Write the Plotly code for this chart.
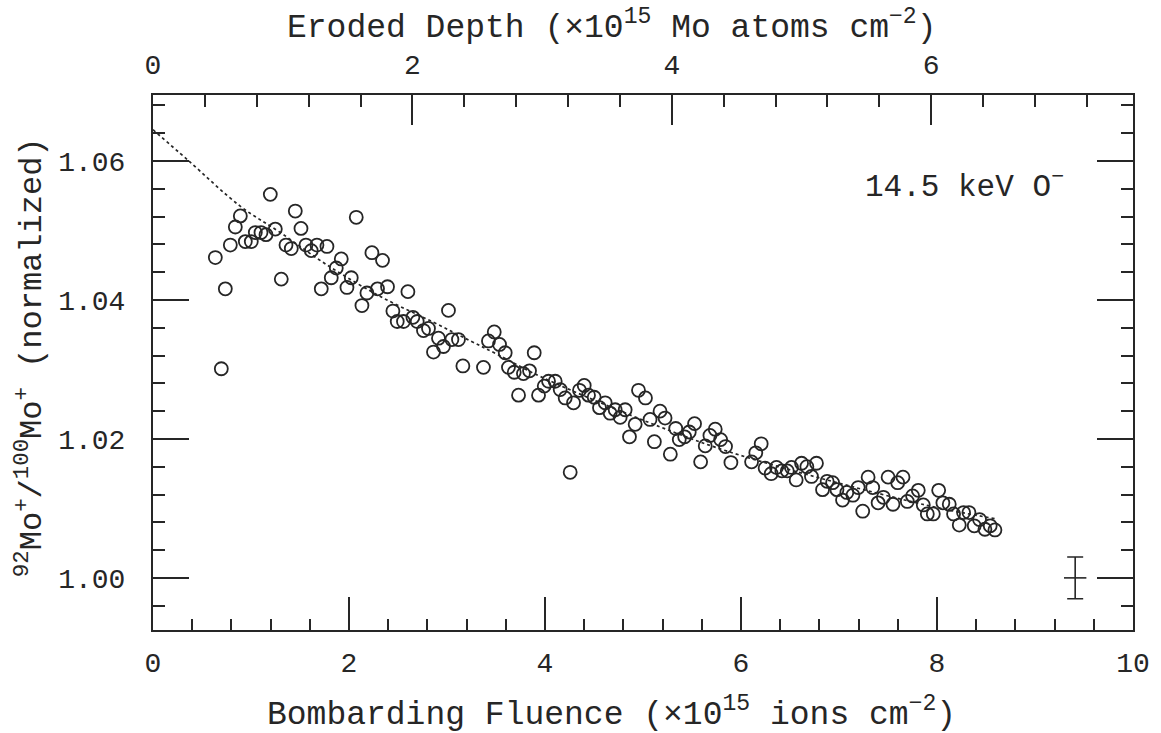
import plotly.graph_objects as go

# Measured data: bombarding fluence (x1e15 ions cm^-2) vs 92Mo+/100Mo+ (normalized)
fluence = [0.636, 0.697, 0.738, 0.789, 0.840, 0.891, 0.942, 1.003, 1.044, 1.102,
           1.153, 1.197, 1.248, 1.309, 1.357, 1.411, 1.452, 1.510, 1.561, 1.615,
           1.673, 1.717, 1.775, 1.819, 1.870, 1.921, 1.979, 2.023, 2.074, 2.132,
           2.183, 2.234, 2.291, 2.342, 2.393, 2.448, 2.492, 2.556, 2.601, 2.652,
           2.696, 2.760, 2.811, 2.862, 2.913, 2.964, 3.015, 3.050, 3.117, 3.162,
           3.372, 3.423, 3.482, 3.536, 3.594, 3.627, 3.686, 3.730, 3.780, 3.842,
           3.890, 3.934, 3.992, 4.036, 4.104, 4.155, 4.206, 4.257, 4.291, 4.352,
           4.400, 4.444, 4.502, 4.556, 4.614, 4.665, 4.716, 4.767, 4.818, 4.862,
           4.920, 4.954, 5.025, 5.072, 5.116, 5.174, 5.225, 5.279, 5.334, 5.370,
           5.425, 5.472, 5.526, 5.588, 5.635, 5.683, 5.737, 5.792, 5.842, 5.897,
           6.108, 6.151, 6.206, 6.246, 6.308, 6.362, 6.417, 6.472, 6.515, 6.563,
           6.618, 6.672, 6.719, 6.770, 6.832, 6.879, 6.935, 6.979, 7.036, 7.080,
           7.142, 7.196, 7.242, 7.297, 7.344, 7.399, 7.453, 7.501, 7.551, 7.599,
           7.653, 7.697, 7.751, 7.809, 7.860, 7.901, 7.962, 8.017, 8.060, 8.125,
           8.169, 8.227, 8.271, 8.326, 8.380, 8.434, 8.489, 8.543, 8.591]
ratio = [1.0461, 1.0301, 1.0416, 1.0479, 1.0505, 1.0521, 1.0484, 1.0484, 1.0497, 1.0497,
         1.0494, 1.0552, 1.0502, 1.0430, 1.0479, 1.0474, 1.0528, 1.0503, 1.0479, 1.0471,
         1.0479, 1.0416, 1.0477, 1.0432, 1.0446, 1.0459, 1.0418, 1.0432, 1.0519, 1.0392,
         1.0410, 1.0468, 1.0416, 1.0457, 1.0419, 1.0384, 1.0369, 1.0369, 1.0412, 1.0375,
         1.0369, 1.0356, 1.0359, 1.0325, 1.0345, 1.0333, 1.0385, 1.0343, 1.0343, 1.0305,
         1.0303, 1.0341, 1.0354, 1.0336, 1.0324, 1.0303, 1.0296, 1.0263, 1.0294, 1.0298,
         1.0324, 1.0263, 1.0276, 1.0283, 1.0283, 1.0271, 1.0259, 1.0152, 1.0252, 1.0270,
         1.0277, 1.0263, 1.0260, 1.0245, 1.0252, 1.0237, 1.0242, 1.0231, 1.0242, 1.0203,
         1.0221, 1.0270, 1.0259, 1.0228, 1.0196, 1.0240, 1.0230, 1.0178, 1.0215, 1.0199,
         1.0203, 1.0210, 1.0222, 1.0167, 1.0190, 1.0205, 1.0214, 1.0199, 1.0189, 1.0166,
         1.0167, 1.0180, 1.0193, 1.0158, 1.0150, 1.0159, 1.0154, 1.0154, 1.0159, 1.0141,
         1.0165, 1.0160, 1.0146, 1.0165, 1.0127, 1.0139, 1.0137, 1.0127, 1.0112, 1.0123,
         1.0119, 1.0130, 1.0096, 1.0145, 1.0130, 1.0108, 1.0116, 1.0145, 1.0106, 1.0137,
         1.0145, 1.0110, 1.0118, 1.0126, 1.0105, 1.0092, 1.0092, 1.0126, 1.0108, 1.0106,
         1.0092, 1.0076, 1.0094, 1.0094, 1.0075, 1.0084, 1.0070, 1.0075, 1.0069]

# Dotted fit curve
fit_fluence = [0.0, 0.35, 0.89, 1.30, 1.78, 2.32, 2.86, 3.24, 3.51, 3.95, 5.18, 5.98, 7.85, 8.60]
fit_ratio = [1.0645, 1.0602, 1.0535, 1.0497, 1.0450, 1.0405, 1.0368, 1.0341, 1.0322, 1.0290,
             1.0217, 1.0177, 1.0106, 1.0085]

# Representative error bar
err_x = [9.41]
err_y = [1.000]
err_size = [0.003]

# Axis definitions
x_range = [0, 10]
x_ticks = [0, 2, 4, 6, 8, 10]
depth_per_fluence = 0.7556
depth_ticks = [0, 2, 4, 6]
y_range = [0.9925, 1.0695]
y_ticks = [1.00, 1.02, 1.04, 1.06]

INK = "#262626"
FONT = "Liberation Mono"

fig = go.Figure()

fig.add_trace(go.Scatter(
    x=fit_fluence, y=fit_ratio, mode="lines",
    line=dict(color=INK, width=1.7, dash="dot", shape="spline"),
    hoverinfo="skip", showlegend=False))

fig.add_trace(go.Scatter(
    x=fluence, y=ratio, mode="markers",
    marker=dict(symbol="circle-open", size=13, color=INK, line=dict(width=1.8, color=INK)),
    showlegend=False))

fig.add_trace(go.Scatter(
    x=err_x, y=err_y, mode="markers",
    marker=dict(symbol="line-ew", size=16, color=INK, line=dict(width=1.6, color=INK)),
    error_y=dict(type="data", array=err_size, visible=True, color=INK, thickness=1.6, width=8),
    showlegend=False, hoverinfo="skip"))

# invisible trace to activate the top axis
fig.add_trace(go.Scatter(
    x=[depth_ticks[0]], y=[y_ticks[0]], xaxis="x2", mode="markers",
    marker=dict(opacity=0), showlegend=False, hoverinfo="skip"))

fig.add_annotation(
    x=7.24, y=1.0566, xref="x", yref="y", xanchor="left", yanchor="middle",
    text="14.5 keV O<sup>\u2212</sup>", showarrow=False,
    font=dict(family=FONT, size=31, color=INK))

fig.add_annotation(
    x=0.468, y=0, xref="paper", yref="paper", yshift=-82, xanchor="center", yanchor="middle",
    text="Bombarding Fluence (\u00d710<sup>15</sup> ions cm<sup>\u22122</sup>)", showarrow=False,
    font=dict(family=FONT, size=33, color=INK))

fig.add_annotation(
    x=0.468, y=1, xref="paper", yref="paper", yshift=70, xanchor="center", yanchor="middle",
    text="Eroded Depth (\u00d710<sup>15</sup> Mo atoms cm<sup>\u22122</sup>)", showarrow=False,
    font=dict(family=FONT, size=33, color=INK))

fig.add_annotation(
    x=0, y=0.51, xref="paper", yref="paper", xshift=-123, xanchor="center", yanchor="middle",
    textangle=-90,
    text="<sup>92</sup>Mo<sup>+</sup>/<sup>100</sup>Mo<sup>+</sup> (normalized)", showarrow=False,
    font=dict(family=FONT, size=32, color=INK))

fig.update_layout(
    width=1161, height=733, autosize=False,
    plot_bgcolor="white", paper_bgcolor="white",
    margin=dict(l=153, r=28, t=95, b=103),
    font=dict(family=FONT, size=28, color=INK),
    xaxis=dict(
        range=x_range, tickvals=x_ticks, ticks="inside", ticklen=33, tickwidth=1.5, tickcolor=INK,
        minor=dict(dtick=0.4, tick0=0, ticks="inside", ticklen=11, tickwidth=1.5, tickcolor=INK),
        showline=True, linewidth=2, linecolor=INK, mirror=False,
        showgrid=False, zeroline=False, ticklabelstandoff=6,
        tickfont=dict(family=FONT, size=28, color=INK)),
    xaxis2=dict(
        overlaying="x", side="top", anchor="y",
        range=[x_range[0] * depth_per_fluence, x_range[1] * depth_per_fluence],
        tickvals=depth_ticks, ticks="inside", ticklen=30, tickwidth=1.5, tickcolor=INK,
        minor=dict(dtick=0.4, tick0=0, ticks="inside", ticklen=12, tickwidth=1.5, tickcolor=INK),
        showline=True, linewidth=2, linecolor=INK,
        showgrid=False, zeroline=False, ticklabelstandoff=8,
        tickfont=dict(family=FONT, size=28, color=INK)),
    yaxis=dict(
        range=y_range, tickvals=y_ticks, tickformat=".2f", ticks="inside", ticklen=36,
        tickwidth=1.5, tickcolor=INK,
        minor=dict(dtick=0.004, tick0=1.0, ticks="inside", ticklen=12, tickwidth=1.5, tickcolor=INK),
        showline=True, linewidth=2, linecolor=INK, mirror="ticks",
        showgrid=False, zeroline=False, ticklabelstandoff=20,
        tickfont=dict(family=FONT, size=28, color=INK)),
)

fig.write_html("out.html", config={"displayModeBar": False},
               post_script="document.body.style.margin='0';document.body.style.overflow='hidden';")
